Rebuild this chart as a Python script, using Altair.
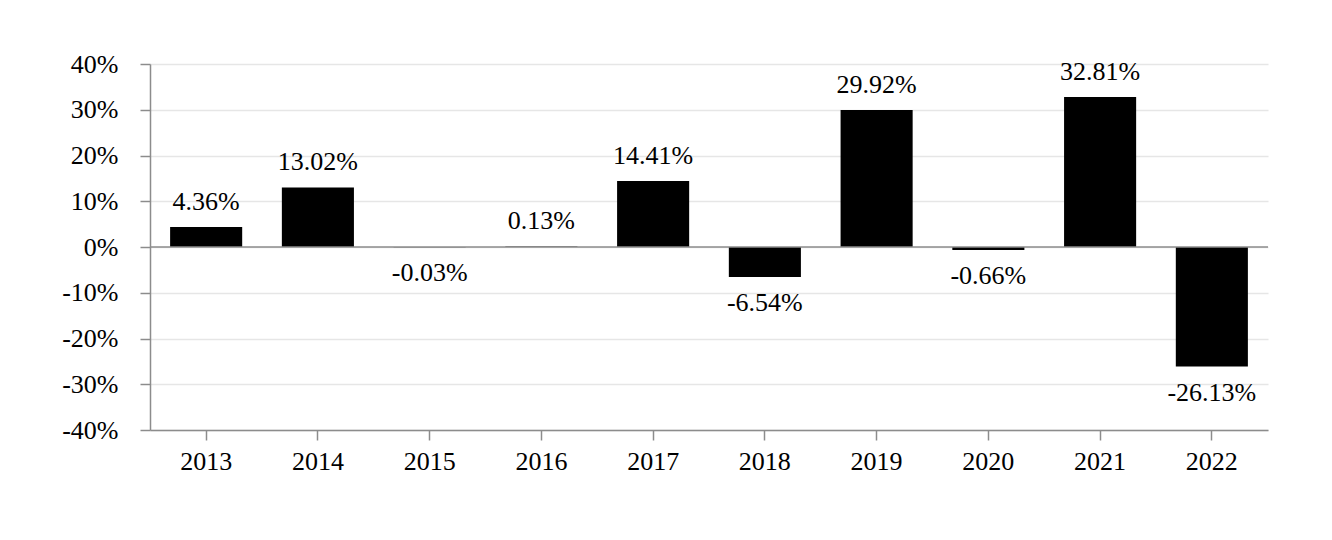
import altair as alt
import pandas as pd

years = ["2013", "2014", "2015", "2016", "2017", "2018", "2019", "2020", "2021", "2022"]
returns = [4.36, 13.02, -0.03, 0.13, 14.41, -6.54, 29.92, -0.66, 32.81, -26.13]
labels = ["4.36%", "13.02%", "-0.03%", "0.13%", "14.41%", "-6.54%", "29.92%", "-0.66%", "32.81%", "-26.13%"]
y_ticks = [-40, -30, -20, -10, 0, 10, 20, 30, 40]

df = pd.DataFrame({"year": years, "ret": returns, "label": labels})
df["pos"] = df["ret"] >= 0

FONT = "'Liberation Serif', 'Times New Roman', 'DejaVu Serif', serif"
FS = 26

x = alt.X("year:N", sort=years, title=None,
          scale=alt.Scale(paddingInner=0.355, paddingOuter=0.18),
          axis=alt.Axis(labelAngle=0, labelFont=FONT, labelFontSize=FS, labelColor="black",
                        domainColor="#8c8c8c", tickColor="#8c8c8c", tickSize=10, labelPadding=8,
                        grid=False, domainWidth=1.5, tickWidth=1.5))
y = alt.Y("ret:Q", title=None,
          scale=alt.Scale(domain=[-40, 40], nice=False),
          axis=alt.Axis(values=y_ticks, labelExpr="datum.value + '%'", labelFont=FONT,
                        labelFontSize=FS, labelColor="black", domainColor="#8c8c8c",
                        tickColor="#8c8c8c", tickSize=10, labelPadding=22, gridColor="#e6e6e6",
                        gridWidth=1.5, domainWidth=1.5, tickWidth=1.5))

base = alt.Chart(df)
bars = base.mark_bar(color="black").encode(x=x, y=y)
zero = alt.Chart(pd.DataFrame({"z": [0]})).mark_rule(color="#8c8c8c", strokeWidth=1.5).encode(y="z:Q")
pos_text = base.transform_filter("datum.pos").mark_text(
    font=FONT, fontSize=FS, color="black", baseline="bottom", dy=-12
).encode(x=alt.X("year:N", sort=years), y="ret:Q", text="label:N")
neg_text = base.transform_filter("!datum.pos").mark_text(
    font=FONT, fontSize=FS, color="black", baseline="top", dy=13
).encode(x=alt.X("year:N", sort=years), y="ret:Q", text="label:N")

chart = (bars + zero + pos_text + neg_text).properties(
    width=1118, height=366,
    background="white",
    autosize=alt.AutoSizeParams(type="none"),
    padding={"left": 142, "top": 56, "right": 56, "bottom": 100},
).configure_view(stroke=None)

chart.save("out.html", embed_options={"renderer": "svg", "actions": False})
